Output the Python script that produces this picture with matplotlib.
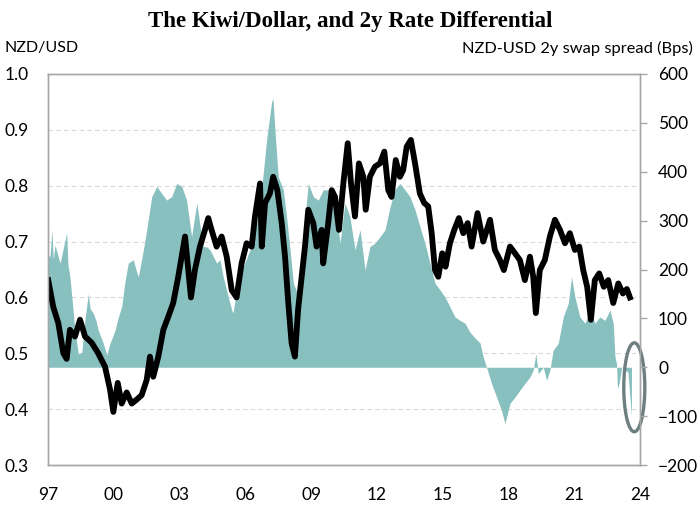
import matplotlib
matplotlib.use("Agg")
import matplotlib.pyplot as plt
from matplotlib.patches import Ellipse

plt.rcParams['font.family'] = ['Lato', 'DejaVu Sans']

# NZD/USD (left axis)
nzd_years = [1997.01, 1997.24, 1997.47, 1997.70, 1997.85, 1998.00, 1998.23, 1998.46,
             1998.69, 1998.99, 1999.29, 1999.60, 1999.83, 1999.98, 2000.18, 2000.36,
             2000.59, 2000.82, 2001.04, 2001.27, 2001.50, 2001.65, 2001.80, 2002.03,
             2002.26, 2002.49, 2002.71, 2002.94, 2003.25, 2003.52, 2003.70, 2003.93,
             2004.16, 2004.31, 2004.46, 2004.69, 2004.92, 2005.15, 2005.38, 2005.60,
             2005.83, 2006.06, 2006.29, 2006.44, 2006.67, 2006.75, 2006.90, 2007.12,
             2007.27, 2007.46, 2007.66, 2007.81, 2007.96, 2008.11, 2008.26, 2008.41,
             2008.57, 2008.72, 2008.87, 2009.10, 2009.25, 2009.48, 2009.55, 2009.78,
             2009.94, 2010.09, 2010.27, 2010.47, 2010.67, 2010.82, 2011.00, 2011.18,
             2011.38, 2011.49, 2011.68, 2011.91, 2012.14, 2012.34, 2012.52, 2012.67,
             2012.86, 2013.05, 2013.20, 2013.36, 2013.55, 2013.74, 2013.96, 2014.16,
             2014.34, 2014.50, 2014.65, 2014.80, 2014.98, 2015.13, 2015.33, 2015.53,
             2015.74, 2015.94, 2016.14, 2016.32, 2016.59, 2016.85, 2017.16, 2017.38,
             2017.61, 2017.79, 2018.07, 2018.30, 2018.52, 2018.75, 2018.98, 2019.13,
             2019.25, 2019.43, 2019.66, 2019.89, 2020.12, 2020.35, 2020.58, 2020.80,
             2021.03, 2021.23, 2021.41, 2021.59, 2021.76, 2021.94, 2022.14, 2022.35,
             2022.55, 2022.78, 2023.01, 2023.22, 2023.40, 2023.54]
nzd = [0.631, 0.583, 0.554, 0.500, 0.490, 0.542, 0.530, 0.560,
       0.530, 0.519, 0.500, 0.476, 0.435, 0.395, 0.447, 0.410,
       0.430, 0.410, 0.417, 0.425, 0.452, 0.494, 0.458, 0.494,
       0.542, 0.566, 0.590, 0.637, 0.709, 0.600, 0.649, 0.691,
       0.721, 0.742, 0.721, 0.691, 0.709, 0.673, 0.613, 0.600,
       0.661, 0.697, 0.691, 0.745, 0.804, 0.691, 0.769, 0.786,
       0.816, 0.792, 0.733, 0.673, 0.590, 0.518, 0.494, 0.580,
       0.637, 0.691, 0.757, 0.733, 0.691, 0.721, 0.661, 0.733,
       0.792, 0.780, 0.721, 0.804, 0.876, 0.804, 0.745, 0.840,
       0.816, 0.757, 0.816, 0.834, 0.840, 0.861, 0.792, 0.780,
       0.846, 0.816, 0.828, 0.870, 0.882, 0.840, 0.786, 0.769,
       0.763, 0.715, 0.649, 0.637, 0.679, 0.655, 0.697, 0.721,
       0.742, 0.715, 0.733, 0.691, 0.751, 0.700, 0.739, 0.685,
       0.667, 0.649, 0.691, 0.679, 0.667, 0.631, 0.673, 0.637,
       0.572, 0.649, 0.667, 0.709, 0.739, 0.721, 0.697, 0.715,
       0.685, 0.691, 0.649, 0.619, 0.560, 0.631, 0.643, 0.619,
       0.631, 0.590, 0.625, 0.607, 0.615, 0.600]

# NZD-USD 2y swap spread, bps (right axis)
spread_years = [1997.00, 1997.09, 1997.18, 1997.24, 1997.32, 1997.55, 1997.68, 1997.85,
                1997.91, 1998.00, 1998.23, 1998.38, 1998.54, 1998.69, 1998.84, 1998.92,
                1999.07, 1999.19, 1999.29, 1999.52, 1999.68, 1999.83, 2000.06, 2000.19,
                2000.36, 2000.51, 2000.66, 2000.89, 2001.01, 2001.12, 2001.35, 2001.50,
                2001.73, 2001.96, 2002.18, 2002.41, 2002.64, 2002.87, 2003.10, 2003.32,
                2003.55, 2003.66, 2003.79, 2003.93, 2004.08, 2004.25, 2004.39, 2004.69,
                2004.84, 2004.99, 2005.22, 2005.38, 2005.44, 2005.60, 2005.91, 2006.21,
                2006.52, 2006.74, 2006.97, 2007.20, 2007.26, 2007.35, 2007.50, 2007.73,
                2007.88, 2008.04, 2008.19, 2008.34, 2008.49, 2008.64, 2008.87, 2009.10,
                2009.33, 2009.55, 2009.86, 2010.16, 2010.32, 2010.54, 2010.77, 2011.00,
                2011.23, 2011.46, 2011.68, 2011.91, 2012.14, 2012.37, 2012.60, 2012.82,
                2013.05, 2013.28, 2013.51, 2013.74, 2013.96, 2014.19, 2014.42, 2014.65,
                2014.88, 2015.10, 2015.33, 2015.56, 2015.79, 2016.02, 2016.24, 2016.47,
                2016.70, 2016.85, 2017.00, 2017.23, 2017.46, 2017.68, 2017.84, 2018.07,
                2018.30, 2018.52, 2018.75, 2018.98, 2019.13, 2019.25, 2019.36, 2019.59,
                2019.74, 2019.89, 2020.04, 2020.27, 2020.50, 2020.73, 2020.88, 2021.03,
                2021.26, 2021.49, 2021.72, 2021.94, 2022.17, 2022.40, 2022.63, 2022.78,
                2022.86, 2022.93, 2022.97, 2023.05, 2023.16, 2023.31, 2023.45, 2023.54,
                2023.61]
spread = [230, 226, 281, 220, 250, 213, 240, 275,
          210, 185, 76, 28, 30, 100, 150, 120,
          110, 95, 76, 49, 25, 49, 76, 100,
          124, 175, 213, 220, 200, 185, 240, 281,
          349, 370, 356, 342, 349, 376, 370, 342,
          267, 300, 336, 290, 247, 246, 240, 213,
          220, 185, 144, 117, 111, 158, 206, 240,
          294, 363, 465, 543, 550, 485, 390, 363,
          308, 240, 172, 155, 199, 267, 376, 349,
          342, 363, 363, 308, 254, 336, 308, 240,
          281, 199, 247, 254, 267, 281, 328, 363,
          376, 363, 349, 322, 288, 254, 213, 172,
          158, 144, 124, 103, 96, 90, 72, 60,
          50, 21, 0, -33, -61, -88, -115, -74,
          -61, -47, -33, -20, -6, 28, -13, 0,
          -27, -6, 35, 49, 103, 131, 185, 144,
          103, 90, 117, 90, 103, 96, 117, 90,
          21, 7, -43, -33, 0, -5, -10, -60,
          -100]

xtick_years = [1997, 2000, 2003, 2006, 2009, 2012, 2015, 2018, 2021, 2024]
xtick_labels = ["97", "00", "03", "06", "09", "12", "15", "18", "21", "24"]

teal = "#88bfbf"
spine_grey = "#a6a6a6"

fig = plt.figure(figsize=(7, 5.09), dpi=100)
ax = fig.add_axes([48/700, 44/509, 592/700, 391/509])
ax2 = ax.twinx()

ax2.fill_between(spread_years, 0, spread, color=teal, lw=0)
ax2.plot(nzd_years, nzd, color="black", lw=4.2, solid_joinstyle="round",
         transform=ax.transData)

ax2.add_patch(Ellipse((2023.74, -41), 0.96, 182, fill=False,
                      edgecolor="#6e7f80", lw=2.4, clip_on=False))

ax.set(xlim=[1997, 2024], ylim=[0.3, 1.0])
ax2.set(xlim=[1997, 2024], ylim=[-200, 600])

ax.set_yticks([0.3, 0.4, 0.5, 0.6, 0.7, 0.8, 0.9, 1.0])
ax.set_yticklabels(["0.3", "0.4", "0.5", "0.6", "0.7", "0.8", "0.9", "1.0"])
ax2.set_yticks(range(-200, 601, 100))
ax.set_xticks(xtick_years)
ax.set_xticklabels(xtick_labels)

ax.grid(axis="y", color="#d9d9d9", linestyle=(0, (4, 3)), lw=0.8)
ax.tick_params(axis="y", length=0, pad=14, labelsize=12.5)
ax.tick_params(axis="x", length=0, pad=16, labelsize=12.5)
ax2.tick_params(axis="y", length=5, width=1, color=spine_grey, pad=8, labelsize=12.5)

for a in (ax, ax2):
    for s in a.spines.values():
        s.set_color(spine_grey)
        s.set_linewidth(1)

fig.text(0.5, 1 - 22/509, "The Kiwi/Dollar, and 2y Rate Differential",
         ha="center", va="center", fontsize=16.5, weight="bold",
         family="Liberation Serif")
fig.text(5/700, 1 - 48/509, "NZD/USD", ha="left", va="center", fontsize=11.5)
fig.text(693/700, 1 - 48/509, "NZD-USD 2y swap spread (Bps)", ha="right",
         va="center", fontsize=11.8)

fig.savefig("out.png", dpi=100)
